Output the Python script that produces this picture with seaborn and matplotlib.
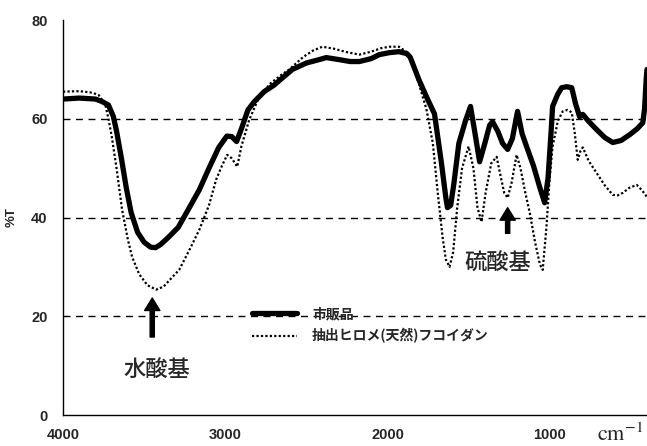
import pandas as pd
import matplotlib.pyplot as plt
import seaborn as sns

# wavenumber (cm-1) and %T
wn_commercial = [4000, 3900, 3800, 3760, 3720, 3690, 3670, 3640, 3610, 3580, 3540, 3500,
                 3460, 3430, 3400, 3350, 3290, 3230, 3160, 3100, 3040, 2990, 2960, 2930,
                 2900, 2860, 2820, 2760, 2700, 2640, 2586, 2500, 2420, 2377, 2300, 2230,
                 2173, 2100, 2050, 1988, 1930, 1880, 1860, 1807, 1760, 1710, 1667, 1640,
                 1630, 1610, 1590, 1560, 1520, 1488, 1460, 1432, 1400, 1370, 1352, 1320,
                 1290, 1259, 1230, 1198, 1170, 1136, 1100, 1060, 1031, 1010, 990, 982,
                 950, 926, 895, 864, 840, 815, 796, 760, 710, 660, 611, 560, 506, 460,
                 426, 415, 405, 400]
t_commercial = [64.0, 64.2, 64.0, 63.5, 62.8, 60.5, 57.5, 52.0, 46.0, 41.0, 37.0, 35.0,
                34.0, 33.9, 34.5, 36.0, 38.0, 41.5, 45.6, 50.0, 54.2, 56.5, 56.4, 55.4,
                58.0, 61.8, 63.5, 65.5, 66.8, 68.5, 70.0, 71.3, 72.0, 72.4, 72.0, 71.6,
                71.6, 72.2, 73.0, 73.4, 73.6, 73.2, 72.5, 68.0, 64.5, 61.0, 51.0, 44.0,
                42.0, 42.5, 47.0, 55.0, 59.5, 62.5, 57.0, 51.3, 55.0, 58.7, 59.4, 57.5,
                55.0, 53.8, 56.0, 61.5, 57.0, 53.8, 50.5, 46.0, 43.0, 48.0, 58.0, 62.5,
                65.0, 66.3, 66.5, 66.3, 63.0, 60.4, 60.9, 59.5, 57.8, 56.2, 55.2, 55.6,
                56.8, 58.0, 59.2, 62.0, 68.0, 70.0]

wn_natural = [4000, 3900, 3820, 3780, 3740, 3720, 3700, 3670, 3636, 3600, 3574, 3530,
              3480, 3426, 3380, 3330, 3284, 3220, 3160, 3100, 3056, 3020, 2988, 2960,
              2926, 2900, 2852, 2790, 2720, 2650, 2605, 2520, 2460, 2401, 2330, 2250,
              2173, 2100, 2040, 1988, 1930, 1880, 1840, 1810, 1760, 1720, 1690, 1660,
              1640, 1617, 1595, 1570, 1540, 1500, 1470, 1445, 1420, 1395, 1360, 1327,
              1300, 1280, 1259, 1235, 1204, 1180, 1150, 1123, 1090, 1060, 1043, 1020,
              1000, 982, 950, 920, 890, 864, 845, 827, 810, 796, 760, 710, 660, 611,
              580, 549, 510, 463, 430, 401]
t_natural = [65.5, 65.6, 65.3, 64.8, 63.0, 60.0, 56.5, 50.0, 41.6, 35.5, 32.0, 28.5,
             26.3, 25.4, 26.0, 27.8, 29.4, 33.5, 37.5, 42.5, 47.7, 50.5, 52.7, 52.0,
             50.3, 54.5, 59.8, 64.5, 67.2, 69.0, 70.0, 72.5, 73.8, 74.6, 74.2, 73.5,
             73.0, 73.6, 74.3, 74.6, 74.6, 73.5, 71.0, 67.5, 62.0, 55.0, 45.0, 36.0,
             31.5, 30.0, 33.0, 42.0, 50.0, 54.4, 50.0, 42.0, 39.1, 45.0, 51.0, 52.3,
             48.0, 45.0, 44.0, 47.0, 52.7, 50.0, 45.0, 41.0, 35.0, 30.5, 29.4, 38.0,
             48.0, 54.4, 59.5, 61.5, 61.8, 61.3, 57.0, 51.7, 53.5, 54.2, 51.5, 49.0,
             46.5, 44.6, 44.5, 45.0, 46.0, 46.6, 45.5, 44.2]

labels = ['市販品', '抽出ヒロメ(天然)フコイダン']
y_ticks = [0, 20, 40, 60, 80]
x_ticks = [4000, 3000, 2000, 1000]

df_com = pd.DataFrame({'wn': wn_commercial, 'T': t_commercial})
df_nat = pd.DataFrame({'wn': wn_natural, 'T': t_natural})

sns.set_theme(style='white')
plt.rcParams['font.family'] = ['Liberation Sans', 'Noto Sans CJK JP', 'DejaVu Sans']
plt.rcParams['mathtext.fontset'] = 'stix'

fig = plt.figure(figsize=(6.47, 4.46), dpi=100)
ax = fig.add_axes([0.0974, 0.0695, 0.9026, 0.8855])

# dashed grid lines
for yv in [20, 40, 60]:
    ax.axhline(yv, color='black', lw=1.0, dashes=(5, 4), zorder=1)

sns.lineplot(data=df_com, x='wn', y='T', ax=ax, color='black', lw=3.8,
             label=labels[0], sort=False, zorder=3)
sns.lineplot(data=df_nat, x='wn', y='T', ax=ax, color='black', lw=1.6,
             label=labels[1], sort=False, zorder=2)
ax.lines[-1].set_dashes((1, 1))

ax.set_xlim(4000, 400)
ax.set_ylim(0, 80)
ax.set_xticks(x_ticks)
ax.set_yticks(y_ticks)
ax.tick_params(axis='x', direction='in', length=4, width=1, pad=9, labelsize=10.5)
ax.tick_params(axis='y', length=0, pad=11, labelsize=10.5)
for t in ax.get_xticklabels() + ax.get_yticklabels():
    t.set_fontweight('bold')

for s in ['top', 'right']:
    ax.spines[s].set_visible(False)
for s in ['left', 'bottom']:
    ax.spines[s].set_color('black')
    ax.spines[s].set_linewidth(1.0)

ax.set_xlabel('')
ax.set_ylabel('%T', fontsize=9.5, fontweight='bold', labelpad=10)

# band annotations
arrow_kw = dict(width=3, headwidth=11, headlength=9, color='black', shrink=0)
ax.annotate('', xy=(3450, 23.7), xytext=(3450, 15.8), arrowprops=arrow_kw)
ax.text(3420, 9.2, '水酸基', ha='center', va='center', fontsize=16,
        family=['Noto Sans CJK JP'], fontweight='medium')
ax.annotate('', xy=(1259, 42), xytext=(1259, 36.8), arrowprops=arrow_kw)
ax.text(1321, 30.8, '硫酸基', ha='center', va='center', fontsize=16,
        family=['Noto Sans CJK JP'], fontweight='medium')

leg = ax.legend(loc='center left', bbox_to_anchor=(0.324, 0.227), frameon=False,
                handlelength=3.25, handletextpad=1.05, labelspacing=0.5,
                borderpad=0, borderaxespad=0,
                prop={'family': ['Noto Sans CJK JP'], 'size': 10, 'weight': 'bold'})

fig.text(0.958, 0.012, r'$\mathrm{cm}^{-1}$', ha='center', va='baseline', fontsize=16)

fig.savefig('out.png', dpi=100)
plt.close('all')
